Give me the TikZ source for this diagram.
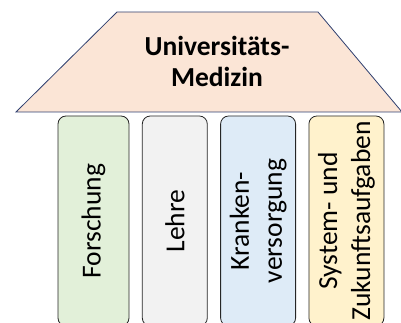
\documentclass[tikz,border=0pt]{standalone}
\usepackage{fontspec}
\setmainfont{Carlito}
\usetikzlibrary{positioning}
\definecolor{roofpeach}{HTML}{FBE5D6}
\definecolor{roofline}{HTML}{2F3F6F}
\definecolor{forschfill}{HTML}{E2F0D9}
\definecolor{lehrefill}{HTML}{F2F2F2}
\definecolor{krankfill}{HTML}{DEEBF7}
\definecolor{systemfill}{HTML}{FFF2CC}
\tikzset{pillar/.style={rectangle, rounded corners=8pt, draw=black!85, line width=0.8pt, minimum height=210pt, inner sep=0pt},
pillartext/.style={rotate=90, align=center, font=\fontsize{27.5}{33}\selectfont},}

\begin{document}
\begin{tikzpicture}[x=1pt, y=1pt, node distance=12.5pt]
\useasboundingbox (0,0) rectangle (401,323);
\clip (0,0) rectangle (401,323);
% roof
\draw[fill=roofpeach, draw=roofline, line width=0.8pt] (16,211) -- (117,311) -- (318,311) -- (402,211) -- cycle;
\node[align=center, font=\bfseries\fontsize{27.5}{31}\selectfont] (roof) at (217,262) {Universitäts-\\Medizin};
% pillars
\node[pillar, fill=forschfill, minimum width=71pt] (forsch) at (93.5,102) {};
\node[pillar, fill=lehrefill, minimum width=65pt, right=of forsch] (lehre) {};
\node[pillar, fill=krankfill, minimum width=75pt, right=of lehre] (krank) {};
\node[pillar, fill=systemfill, minimum width=75pt, right=of krank] (system) {};
\node[pillartext] (forschtext) at (forsch) {Forschung};
\node[pillartext] (lehretext) at (lehre) {Lehre};
\node[pillartext] (kranktext) at (krank) {Kranken-\\versorgung};
\node[pillartext] (systemtext) at (system) {System- und\\Zukunftsaufgaben};
\end{tikzpicture}
\end{document}
